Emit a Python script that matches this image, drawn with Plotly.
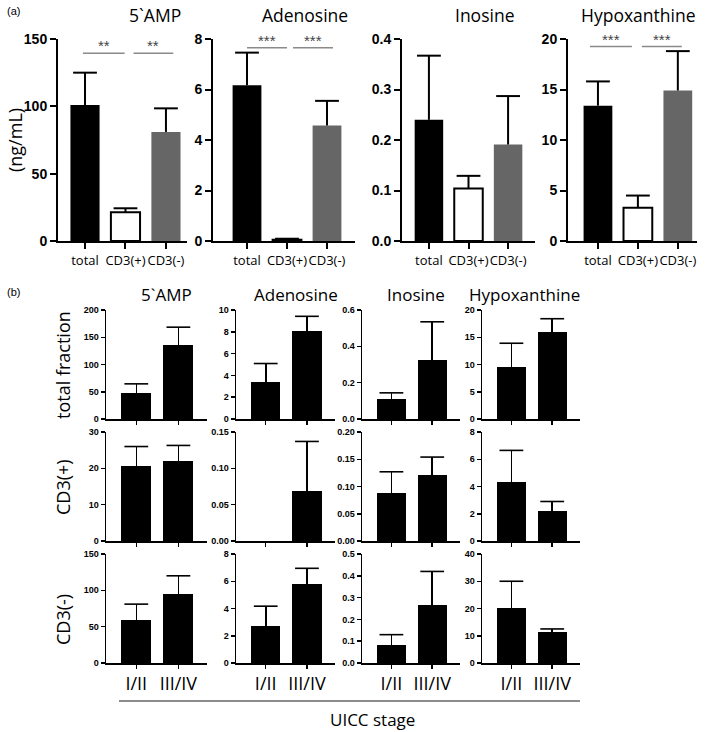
import plotly.graph_objects as go

W, H = 709, 732

# ---------------- data ----------------
metabolites = ["5`AMP", "Adenosine", "Inosine", "Hypoxanthine"]
fractions = ["total", "CD3(+)", "CD3(-)"]

# panel (a): mean and upper error (mean + SEM)
a_mean = {
    "5`AMP": [101, 21.3, 81],
    "Adenosine": [6.17, 0.05, 4.57],
    "Inosine": [0.24, 0.104, 0.191],
    "Hypoxanthine": [13.4, 3.3, 14.9],
}
a_upper = {
    "5`AMP": [125, 24.3, 98.5],
    "Adenosine": [7.46, 0.09, 5.55],
    "Inosine": [0.367, 0.129, 0.287],
    "Hypoxanthine": [15.8, 4.5, 18.8],
}
a_ymax = [150, 8, 0.4, 20]
a_dtick = [50, 2, 0.1, 5]
a_tickformat = ["d", "d", ".1f", "d"]

# significance brackets: (x0, x1, y, label)
sig_5amp = [(-0.05, 0.98, 139.5, "**"), (1.2, 2.18, 139.5, "**")]
sig_adenosine = [(0.0, 1.0, 7.65, "***"), (1.15, 2.15, 7.65, "***")]
sig_hypox = [(-0.2, 0.85, 19.25, "***"), (1.1, 2.1, 19.25, "***")]

# panel (b): UICC stage
stages = ["I/II", "III/IV"]
row_labels = ["total fraction", "CD3(+)", "CD3(-)"]
b_mean = {
    "total fraction": {
        "5`AMP": [48, 135], "Adenosine": [3.37, 8.07],
        "Inosine": [0.109, 0.327], "Hypoxanthine": [9.6, 15.9],
    },
    "CD3(+)": {
        "5`AMP": [20.7, 22.1], "Adenosine": [None, 0.069],
        "Inosine": [0.089, 0.121], "Hypoxanthine": [4.3, 2.2],
    },
    "CD3(-)": {
        "5`AMP": [59, 95], "Adenosine": [2.72, 5.8],
        "Inosine": [0.083, 0.267], "Hypoxanthine": [20.3, 11.4],
    },
}
b_upper = {
    "total fraction": {
        "5`AMP": [64.5, 168.5], "Adenosine": [5.09, 9.42],
        "Inosine": [0.144, 0.535], "Hypoxanthine": [13.9, 18.4],
    },
    "CD3(+)": {
        "5`AMP": [26.0, 26.3], "Adenosine": [None, 0.137],
        "Inosine": [0.127, 0.154], "Hypoxanthine": [6.65, 2.9],
    },
    "CD3(-)": {
        "5`AMP": [81, 120], "Adenosine": [4.17, 6.95],
        "Inosine": [0.13, 0.42], "Hypoxanthine": [30, 12.5],
    },
}
b_ymax = {
    "total fraction": [200, 10, 0.6, 20],
    "CD3(+)": [30, 0.15, 0.20, 8],
    "CD3(-)": [150, 8, 0.5, 40],
}
b_dtick = {
    "total fraction": [50, 2, 0.2, 5],
    "CD3(+)": [10, 0.05, 0.05, 2],
    "CD3(-)": [50, 2, 0.1, 10],
}
b_tickformat = {
    "total fraction": ["d", "d", ".1f", "d"],
    "CD3(+)": ["d", ".2f", ".2f", "d"],
    "CD3(-)": ["d", "d", ".1f", "d"],
}

# ---------------- layout geometry (pixels) ----------------
a_xpx = [(58, 187), (213, 355), (402, 535), (568, 697)]
a_xrange = [(-0.667, 2.52), (-0.85, 2.7), (-0.68, 2.68), (-0.75, 2.48)]
a_ypx = (39, 241)
b_xpx = [(106, 207), (236, 335), (362, 460), (482, 580)]
b_ypx = [(310, 419), (432, 541), (554, 663)]


def xd(p):
    return [p[0] / W, p[1] / W]


def yd(p):
    return [1 - p[1] / H, 1 - p[0] / H]


def diffs(ups, means):
    return [None if (u is None or v is None) else u - v for u, v in zip(ups, means)]


fig = go.Figure()
layout = dict(
    width=W, height=H, margin=dict(l=0, r=0, t=0, b=0, pad=0),
    paper_bgcolor="white", plot_bgcolor="white", showlegend=False,
    bargap=0,
)
shapes, annotations = [], []

TICKFONT_A = dict(family="Liberation Sans", size=14, color="black", weight="bold")
TICKFONT_B = dict(family="Liberation Sans", size=9, color="black", weight="bold")
TEXTFONT = "Open Sans"

bar_colors = ["black", "white", "#666666"]
bar_lines = [0, 2, 0]


def add_bars(cats, means, ups, xa, ya, width, colors, lines, thick, capsize):
    fig.add_trace(go.Bar(
        x=cats, y=means, xaxis=xa, yaxis=ya, width=width,
        marker=dict(color=colors, line=dict(color="black", width=lines)),
        error_y=dict(type="data", symmetric=False, array=diffs(ups, means),
                     arrayminus=[0] * len(cats), color="black", thickness=thick, width=0),
        hoverinfo="skip",
    ))
    # caps at the top of the error bars
    fig.add_trace(go.Scatter(
        x=cats, y=ups, xaxis=xa, yaxis=ya, mode="markers",
        marker=dict(symbol="line-ew", size=capsize, color="black",
                    line=dict(color="black", width=thick)),
        hoverinfo="skip",
    ))


ax = 0
for i, m in enumerate(metabolites):
    ax += 1
    xa = "x" if ax == 1 else f"x{ax}"
    ya = "y" if ax == 1 else f"y{ax}"
    add_bars(fractions, a_mean[m], a_upper[m], xa, ya, 0.72, bar_colors, bar_lines, 2, 17)
    layout[f"xaxis{ax}"] = dict(
        domain=xd(a_xpx[i]), anchor=ya, type="category", automargin=False,
        range=list(a_xrange[i]), showline=True, linecolor="black", linewidth=2,
        ticks="outside", ticklen=6, tickwidth=2, tickcolor="black", tickangle=0,
        tickfont=dict(family=TEXTFONT, size=13, color="black"),
        showgrid=False, zeroline=False, fixedrange=True,
    )
    layout[f"yaxis{ax}"] = dict(
        domain=yd(a_ypx), anchor=xa, range=[0, a_ymax[i]], dtick=a_dtick[i],
        automargin=False,
        tickformat=a_tickformat[i], showline=True, linecolor="black", linewidth=2,
        ticks="outside", ticklen=6, tickwidth=2, tickcolor="black",
        tickfont=TICKFONT_A, showgrid=False, zeroline=False, fixedrange=True,
    )

# significance brackets
for m, sigs in [("5`AMP", sig_5amp), ("Adenosine", sig_adenosine), ("Hypoxanthine", sig_hypox)]:
    k = metabolites.index(m) + 1
    xr = "x" if k == 1 else f"x{k}"
    yr = "y" if k == 1 else f"y{k}"
    for x0, x1, yv, lab in sigs:
        shapes.append(dict(type="line", xref=xr, yref=yr, x0=x0, x1=x1, y0=yv, y1=yv,
                           line=dict(color="#8a8a8a", width=1.5)))
        annotations.append(dict(xref=xr, yref=yr, x=(x0 + x1) / 2, y=yv, text=lab,
                                showarrow=False, yanchor="bottom", yshift=-3,
                                font=dict(family="Liberation Sans", size=15, color="#444444")))

# panel (b)
for r, rl in enumerate(row_labels):
    for i, m in enumerate(metabolites):
        ax += 1
        xa, ya = f"x{ax}", f"y{ax}"
        add_bars(stages, b_mean[rl][m], b_upper[rl][m], xa, ya, 0.71,
                 "black", 0, 1.6, 17)
        last = r == len(row_labels) - 1
        layout[f"xaxis{ax}"] = dict(
            domain=xd(b_xpx[i]), anchor=ya, type="category", range=[-0.72, 1.68],
            automargin=False,
            showline=True, linecolor="black", linewidth=1.5,
            ticks="outside", ticklen=4, tickwidth=1.5, tickcolor="black", tickangle=0,
            showticklabels=last,
            tickfont=dict(family=TEXTFONT, size=18, color="black"),
            showgrid=False, zeroline=False, fixedrange=True,
        )
        layout[f"yaxis{ax}"] = dict(
            domain=yd(b_ypx[r]), anchor=xa, range=[0, b_ymax[rl][i]],
            dtick=b_dtick[rl][i], tickformat=b_tickformat[rl][i], automargin=False,
            showline=True, linecolor="black", linewidth=1.5,
            ticks="outside", ticklen=4, tickwidth=1.5, tickcolor="black",
            tickfont=TICKFONT_B, showgrid=False, zeroline=False, fixedrange=True,
        )

# titles and labels
a_title_px = [155, 305, 484, 638]
b_title_px = [166, 296, 416, 524]
for i, m in enumerate(metabolites):
    annotations.append(dict(xref="paper", yref="paper", x=a_title_px[i] / W, y=1 - 15 / H,
                            text=m, showarrow=False, xanchor="center", yanchor="middle",
                            font=dict(family=TEXTFONT, size=17.5, color="black")))
    annotations.append(dict(xref="paper", yref="paper", x=b_title_px[i] / W, y=1 - 294 / H,
                            text=m, showarrow=False, xanchor="center", yanchor="middle",
                            font=dict(family=TEXTFONT, size=17, color="black")))

annotations.append(dict(xref="paper", yref="paper", x=13 / W, y=1 - 11 / H, text="(a)",
                        showarrow=False, xanchor="center", yanchor="middle",
                        font=dict(family="Liberation Sans", size=11, color="black")))
annotations.append(dict(xref="paper", yref="paper", x=13 / W, y=1 - 292 / H, text="(b)",
                        showarrow=False, xanchor="center", yanchor="middle",
                        font=dict(family="Liberation Sans", size=11, color="black")))
annotations.append(dict(xref="paper", yref="paper", x=15 / W, y=1 - 140 / H, text="(ng/mL)",
                        textangle=-90, showarrow=False, xanchor="center", yanchor="middle",
                        font=dict(family=TEXTFONT, size=18, color="black")))

row_label_px = [365, 487, 620]
for r, rl in enumerate(row_labels):
    annotations.append(dict(xref="paper", yref="paper", x=63 / W, y=1 - row_label_px[r] / H,
                            text=rl, textangle=-90, showarrow=False,
                            xanchor="center", yanchor="middle",
                            font=dict(family=TEXTFONT, size=18, color="black")))

shapes.append(dict(type="line", xref="paper", yref="paper", x0=119 / W, x1=580 / W,
                   y0=1 - 701 / H, y1=1 - 701 / H, line=dict(color="#666666", width=1.5)))
annotations.append(dict(xref="paper", yref="paper", x=372 / W, y=1 - 719 / H, text="UICC stage",
                        showarrow=False, xanchor="center", yanchor="middle",
                        font=dict(family=TEXTFONT, size=17, color="black")))

layout["shapes"] = shapes
layout["annotations"] = annotations
fig.update_layout(**layout)
fig.write_html("out.html", config={"displayModeBar": False, "staticPlot": True},
               post_script="document.body.style.margin='0';document.body.style.padding='0';")
